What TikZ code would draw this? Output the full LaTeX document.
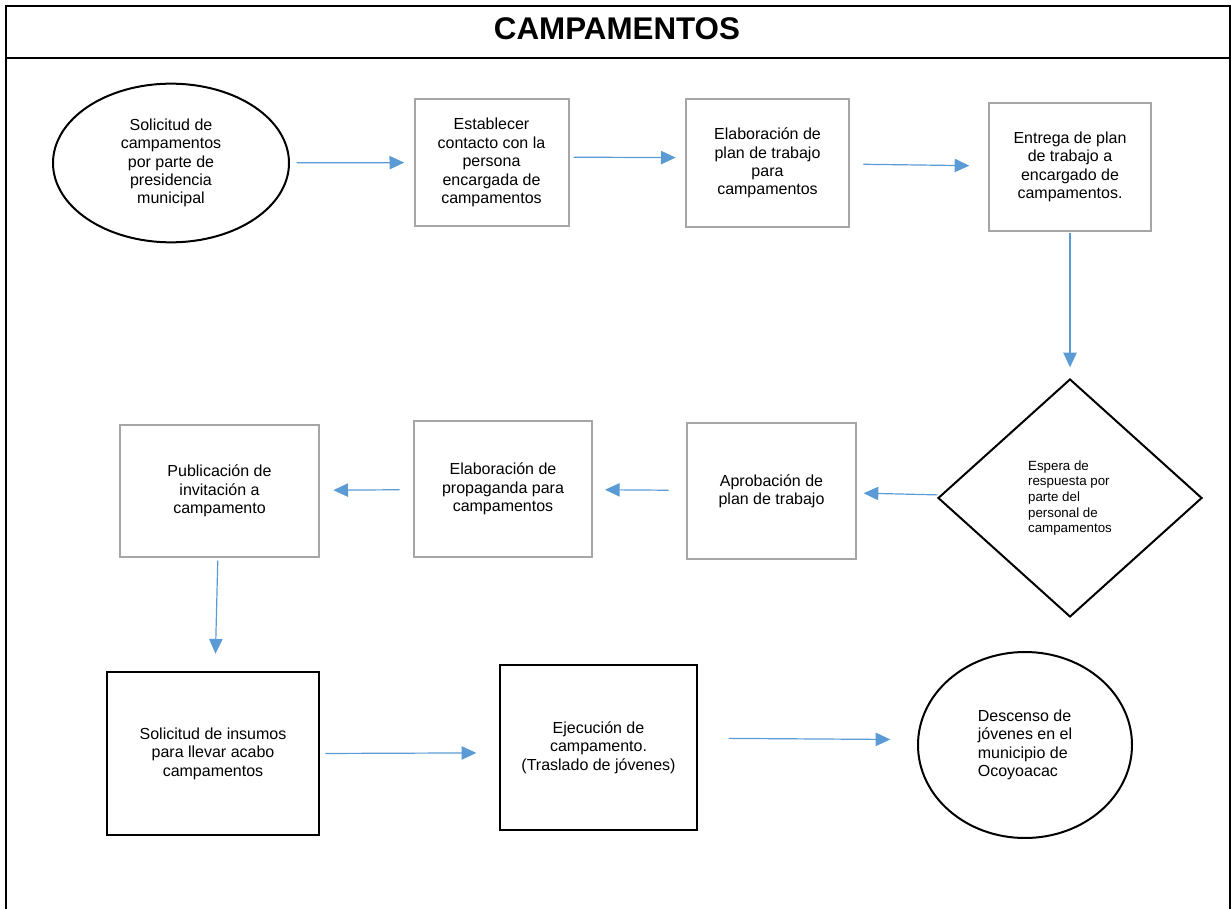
\documentclass[tikz,border=0pt]{standalone}
\usepackage{fontspec}
\setmainfont{Liberation Sans}
\usetikzlibrary{shapes.geometric,arrows.meta}
\definecolor{flechaazul}{HTML}{5B9BD5}
\definecolor{bordegris}{HTML}{A6A6A6}
\tikzset{
  texto/.style={align=center,inner sep=0pt,font=\fontsize{12pt}{13.8pt}\selectfont},
  caja/.style={texto,draw=bordegris,line width=1.5pt},
  cajanegra/.style={texto,draw=black,line width=1.5pt},
  elipse/.style={texto,ellipse,draw=black,line width=1.5pt},
  rombo/.style={diamond,draw=black,line width=1.5pt,align=left,inner sep=0pt,font=\fontsize{10pt}{11.7pt}\selectfont},
  flecha/.style={-{Triangle[length=11pt,width=10pt]},draw=flechaazul,line width=0.9pt}
}
\begin{document}
\begin{tikzpicture}[x=0.75pt,y=-0.75pt]
\useasboundingbox (0,0) rectangle (1232,909);
\coordinate (T) at (617,29);
\coordinate (S) at (171,163);
\coordinate (C) at (491.5,162.5);
\coordinate (P) at (767.5,163);
\coordinate (E) at (1070,167);
\coordinate (R) at (1070,498);
\coordinate (A) at (771.5,491);
\coordinate (G) at (503,489);
\coordinate (U) at (219.5,491);
\coordinate (I) at (213,753.5);
\coordinate (J) at (598.5,747.5);
\coordinate (D) at (1025,745);
\draw [line width=1.3pt] (6,909) -- (6,6) -- (1230,6) -- (1230,909);
\draw [line width=1.3pt] (6,58) -- (1230,58);
\node (titulo) at (T) {\fontsize{23.5pt}{26pt}\selectfont\bfseries CAMPAMENTOS};
\node [elipse,minimum width=177pt,minimum height=119pt] (sol) at (S) {Solicitud de\\campamentos\\por parte de\\presidencia\\municipal};
\node [caja,minimum width=115.5pt,minimum height=95.25pt] (cont) at (C) {Establecer\\contacto con la\\persona\\encargada de\\campamentos};
\node [caja,minimum width=122.25pt,minimum height=96pt] (plan) at (P) {Elaboración de\\plan de trabajo\\para\\campamentos};
\node [caja,minimum width=121.5pt,minimum height=96pt] (entr) at (E) {Entrega de plan\\de trabajo a\\encargado de\\campamentos.};
\node [rombo,minimum width=198pt,minimum height=178.5pt] (esp) at (R) {Espera de\\respuesta por\\parte del\\personal de\\campamentos};
\node [caja,minimum width=126.75pt,minimum height=102pt] (apro) at (A) {Aprobación de\\plan de trabajo};
\node [caja,minimum width=133.5pt,minimum height=102pt] (prop) at (G) {Elaboración de\\propaganda para\\campamentos};
\node [caja,minimum width=149.25pt,minimum height=99pt] (pub) at (U) {Publicación de\\invitación a\\campamento};
\node [cajanegra,minimum width=159pt,minimum height=122.25pt] (ins) at (I) {Solicitud de insumos\\para llevar acabo\\campamentos};
\node [cajanegra,minimum width=147.75pt,minimum height=123.75pt] (eje) at (J) {Ejecución de\\campamento.\\(Traslado de jóvenes)};
\node [elipse,align=left,minimum width=160.5pt,minimum height=139.5pt] (desc) at (D) {Descenso de\\jóvenes en el\\municipio de\\Ocoyoacac};
\draw [flecha,shorten <=5pt,shorten >=7pt] (sol) -- (cont);
\draw [flecha,shorten <=3pt,shorten >=7pt] ([yshift=4pt]cont.east) -- ([yshift=4pt]plan.west);
\draw [flecha,shorten <=10pt,shorten >=14pt] (plan) -- (entr);
\draw [flecha,shorten <=1pt,shorten >=8pt] (entr) -- (esp);
\draw [flecha,shorten <=2pt,shorten >=5pt] (esp) -- (apro);
\draw [flecha,shorten <=13pt,shorten >=9pt] (apro) -- (prop);
\draw [flecha,shorten <=10pt,shorten >=10pt] (prop) -- (pub);
\draw [flecha,shorten <=2pt,shorten >=13pt] (pub) -- (ins);
\draw [flecha,shorten <=4pt,shorten >=17pt] (ins.east) -- ([yshift=-4pt]eje.west);
\draw [flecha,shorten <=23pt,shorten >=20pt] ([yshift=7pt]eje.east) -- ([yshift=4pt]desc.west);
\end{tikzpicture}
\end{document}
